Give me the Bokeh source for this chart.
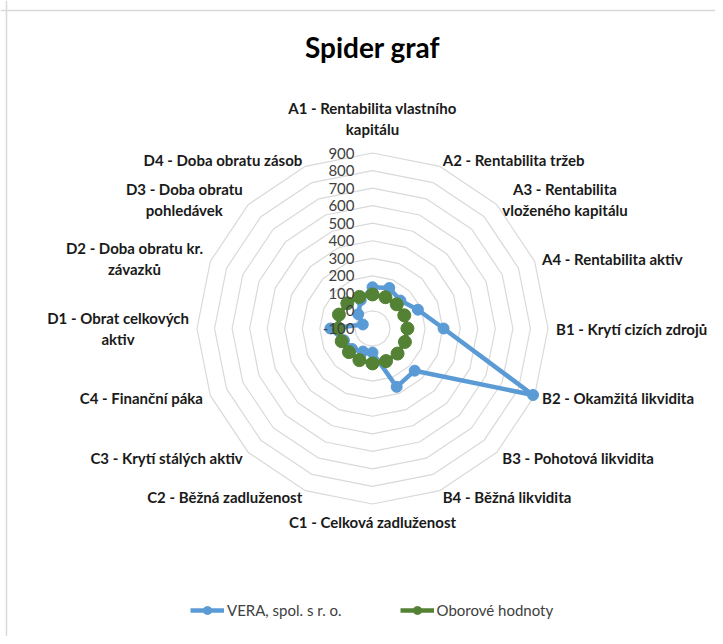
import numpy as np
from bokeh.plotting import figure
from bokeh.models import Range1d, Span, Legend, LegendItem
from bokeh.core.properties import value
from bokeh.embed import file_html
from bokeh.resources import INLINE

# ---------------- data ----------------
categories = [
    "A1 - Rentabilita vlastního\nkapitálu",
    "A2 - Rentabilita tržeb",
    "A3 - Rentabilita\nvloženého kapitálu",
    "A4 - Rentabilita aktiv",
    "B1 - Krytí cizích zdrojů",
    "B2 - Okamžitá likvidita",
    "B3 - Pohotová likvidita",
    "B4 - Běžná likvidita",
    "C1 - Celková zadluženost",
    "C2 - Běžná zadluženost",
    "C3 - Krytí stálých aktiv",
    "C4 - Finanční páka",
    "D1 - Obrat celkových\naktiv",
    "D2 - Doba obratu kr.\nzávazků",
    "D3 - Doba obratu\npohledávek",
    "D4 - Doba obratu zásob",
]
vera = [135, 150, 125, 180, 305, 890, 240, 260, 37, 42, 65, 76, 140, -40, 15, 75]
obor = [94, 93, 95, 96, 99, 100, 102, 101, 99, 95, 90, 90, 94, 107, 103, 95]
series_names = ["VERA, spol. s r. o.", "Oborové hodnoty"]
tick_values = [-100, 0, 100, 200, 300, 400, 500, 600, 700, 800, 900]
tick_labels = [str(t) for t in tick_values]
title_text = "Spider graf"

# ---------------- layout ----------------
RMIN, RMAX = tick_values[0], tick_values[-1]
K = 0.1755          # pixels per value unit
W, H = 715, 636
CX, CY = 372, 328   # radar centre on canvas (px)


def px(d):
    return d / K


p = figure(width=W, height=H, output_backend="svg", toolbar_location=None,
           x_range=Range1d(-px(CX), px(W - CX)), y_range=Range1d(-px(H - CY), px(CY)),
           x_axis_type=None, y_axis_type=None, min_border=0)
p.grid.visible = False
p.outline_line_color = None
p.background_fill_color = "white"
p.border_fill_color = "white"

# chart-area border (top and left visible)
p.add_layout(Span(location=-px(CX) + px(6), dimension="height", line_color="#d9d9d9", line_width=1.5))
p.add_layout(Span(location=px(CY) - px(10), dimension="width", line_color="#d9d9d9", line_width=1.5))

N = len(categories)
theta = np.arange(N) * 2 * np.pi / N
sn, cs = np.sin(theta), np.cos(theta)

# grid polygons
gx, gy = [], []
for t in tick_values[1:]:
    r = t - RMIN
    gx.append(list(r * sn) + [r * sn[0]])
    gy.append(list(r * cs) + [r * cs[0]])
p.multi_line(gx, gy, line_color="#d9d9d9", line_width=1.2)

FONT = value("Lato")


def radar(vals, color, msize):
    r = np.array(vals, dtype=float) - RMIN
    x, y = r * sn, r * cs
    xc, yc = np.append(x, x[0]), np.append(y, y[0])
    ln = p.line(xc, yc, line_color=color, line_width=4.5, line_join="round")
    sc = p.scatter(x, y, size=msize, fill_color=color, line_color=color)
    return ln, sc


l1, s1 = radar(vera, "#5b9bd5", 11)
l2, s2 = radar(obor, "#548235", 13)

# radial tick labels
p.text(x=[-px(18)] * len(tick_values), y=[t - RMIN for t in tick_values], text=tick_labels,
       text_align="right", text_baseline="middle", text_font=FONT,
       text_font_size="15px", text_color="#404040")

# category labels
R = RMAX - RMIN
for i, lab in enumerate(categories):
    s, c = sn[i], cs[i]
    vx, vy = R * s, R * c
    if abs(s) < 0.1:
        if c > 0:
            anc, x, y = "bottom_center", vx, vy + px(15)
        else:
            anc, x, y = "top_center", vx, vy - px(9)
    else:
        x = vx + px(8) * s
        y = vy + px(7) * c
        anc = "center_left" if s > 0 else "center_right"
    p.text(x=[x], y=[y], text=[lab], anchor=value(anc), text_align="center",
           text_font=FONT, text_font_style="bold", text_font_size="15px",
           text_color="#1a1a1a", text_line_height=1.15)

# title
p.text(x=[0], y=[px(CY - 46)], text=[title_text], text_align="center", text_baseline="middle",
       text_font=FONT, text_font_style="bold", text_font_size="28px", text_color="#000000")

legend = Legend(items=[LegendItem(label=series_names[0], renderers=[l1, s1]),
                       LegendItem(label=series_names[1], renderers=[l2, s2])],
                orientation="horizontal", location=(190, 16), padding=0, margin=0,
                spacing=58, glyph_width=34, label_standoff=3,
                label_text_font="Lato", label_text_font_size="15px", label_text_color="#404040",
                border_line_color=None, background_fill_alpha=0)
p.add_layout(legend, "center")

open("out.html", "w").write(file_html(p, INLINE))
